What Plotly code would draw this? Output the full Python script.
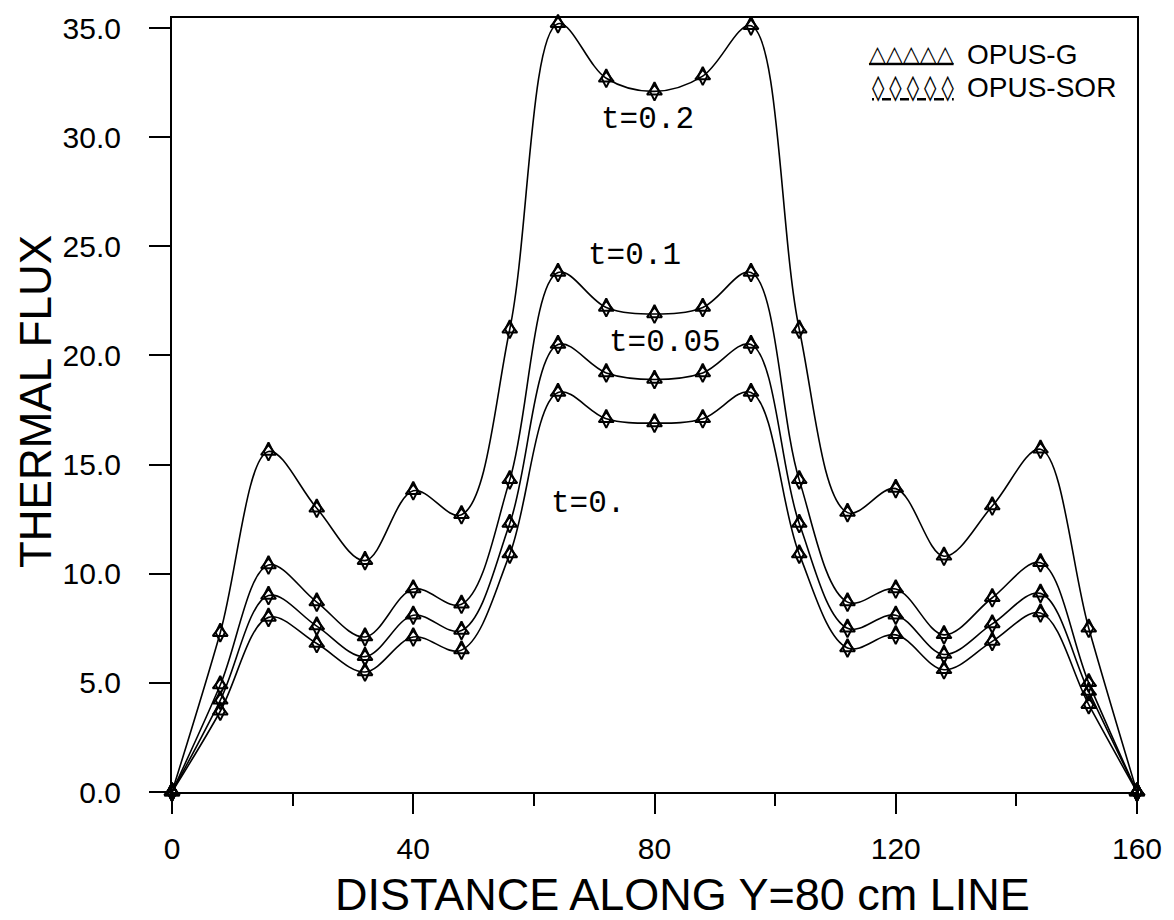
import plotly.graph_objects as go

# ---- data ----
x_cm = [0, 8, 16, 24, 32, 40, 48, 56, 64, 72, 80, 88, 96, 104, 112, 120, 128, 136, 144, 152, 160]

flux_t02 = [0.0, 7.3, 15.6, 13.0, 10.6, 13.8, 12.7, 21.2, 35.2, 32.7, 32.1, 32.8, 35.1, 21.2, 12.8, 13.9, 10.8, 13.1, 15.7, 7.5, 0.0]
flux_t01 = [0.0, 4.9, 10.4, 8.7, 7.1, 9.3, 8.6, 14.3, 23.8, 22.2, 21.9, 22.2, 23.8, 14.3, 8.7, 9.3, 7.2, 8.9, 10.5, 5.0, 0.0]
flux_t005 = [0.0, 4.2, 9.0, 7.6, 6.2, 8.1, 7.4, 12.3, 20.5, 19.2, 18.9, 19.2, 20.5, 12.3, 7.5, 8.1, 6.3, 7.7, 9.1, 4.6, 0.0]
flux_t0 = [0.0, 3.7, 8.0, 6.8, 5.5, 7.1, 6.5, 10.9, 18.3, 17.1, 16.9, 17.1, 18.3, 10.9, 6.6, 7.2, 5.6, 6.9, 8.2, 4.0, 0.0]

series_names = ["t=0.2", "t=0.1", "t=0.05", "t=0."]
series_g = [flux_t02, flux_t01, flux_t005, flux_t0]      # OPUS-G
series_sor = [flux_t02, flux_t01, flux_t005, flux_t0]    # OPUS-SOR (coincident at plot resolution)

# curve label placement (data coords)
label_x = [78.8, 76.7, 81.8, 69.0]
label_y = [30.8, 24.6, 20.6, 13.2]

x_ticks = [0, 40, 80, 120, 160]
y_ticks = [0, 5, 10, 15, 20, 25, 30, 35]

fig = go.Figure()

for name, yg, ys in zip(series_names, series_g, series_sor):
    fig.add_trace(go.Scatter(
        x=x_cm, y=yg, mode="lines", name=name,
        line=dict(color="black", width=1.6, shape="spline", smoothing=1.0),
        showlegend=False, hoverinfo="skip"))
    fig.add_trace(go.Scatter(
        x=x_cm, y=yg, mode="markers", name="OPUS-G",
        marker=dict(symbol="triangle-up-open", size=13, color="black",
                    line=dict(width=2, color="black")),
        showlegend=False, cliponaxis=False))
    fig.add_trace(go.Scatter(
        x=x_cm, y=ys, mode="markers", name="OPUS-SOR",
        marker=dict(symbol="diamond-tall-open", size=13, color="black",
                    line=dict(width=2, color="black")),
        showlegend=False, cliponaxis=False))

for name, lx, ly in zip(series_names, label_x, label_y):
    fig.add_annotation(x=lx, y=ly, text=name, showarrow=False,
                       font=dict(family="Liberation Mono", size=31, color="black"))

# legend (drawn as text)
fig.add_annotation(xref="paper", yref="paper", x=0.812, y=0.954, xanchor="right", yanchor="middle",
                   text="<u>\u25b3\u25b3\u25b3\u25b3\u25b3</u>", showarrow=False,
                   font=dict(family="DejaVu Sans", size=22, color="black"))
fig.add_annotation(xref="paper", yref="paper", x=0.812, y=0.910, xanchor="right", yanchor="middle",
                   text="<u>\u25ca\u2009\u25ca\u2009\u25ca\u2009\u25ca\u2009\u25ca</u>", showarrow=False,
                   font=dict(family="DejaVu Sans", size=25, color="black"))
fig.add_annotation(xref="paper", yref="paper", x=0.822, y=0.953, xanchor="left", yanchor="middle",
                   text="OPUS-G", showarrow=False,
                   font=dict(family="Liberation Sans", size=28, color="black"))
fig.add_annotation(xref="paper", yref="paper", x=0.822, y=0.910, xanchor="left", yanchor="middle",
                   text="OPUS-SOR", showarrow=False,
                   font=dict(family="Liberation Sans", size=28, color="black"))

# axis titles
fig.add_annotation(xref="paper", yref="paper", x=0.529, y=-0.132, xanchor="center", yanchor="middle",
                   text="DISTANCE ALONG Y=80 cm LINE", showarrow=False,
                   font=dict(family="Liberation Sans", size=45, color="black"))
fig.add_annotation(xref="paper", yref="paper", x=-0.142, y=0.505, xanchor="center", yanchor="middle",
                   text="THERMAL FLUX", showarrow=False, textangle=-90,
                   font=dict(family="Liberation Sans", size=44, color="black"))

fig.update_xaxes(range=[0, 160], tickvals=x_ticks, ticktext=[str(v) for v in x_ticks],
                 ticks="outside", ticklen=20, tickwidth=2, tickcolor="black",
                 minor=dict(dtick=20, tick0=0, ticks="outside", ticklen=12, tickwidth=2, tickcolor="black"),
                 showline=True, linecolor="black", linewidth=2, mirror=True,
                 showgrid=False, zeroline=False,
                 tickfont=dict(family="Liberation Sans", size=30, color="black"),
                 ticklabelstandoff=9)
fig.update_yaxes(range=[0, 35.46], tickvals=y_ticks, tickformat=".1f",
                 ticks="outside", ticklen=21, tickwidth=2, tickcolor="black",
                 showline=True, linecolor="black", linewidth=2, mirror=True,
                 showgrid=False, zeroline=False,
                 tickfont=dict(family="Liberation Sans", size=30, color="black"),
                 ticklabelstandoff=22)

fig.update_layout(width=1174, height=920,
                  margin=dict(l=172, r=32, t=13, b=128),
                  paper_bgcolor="white", plot_bgcolor="white",
                  showlegend=False)

fig.write_html("out.html")
